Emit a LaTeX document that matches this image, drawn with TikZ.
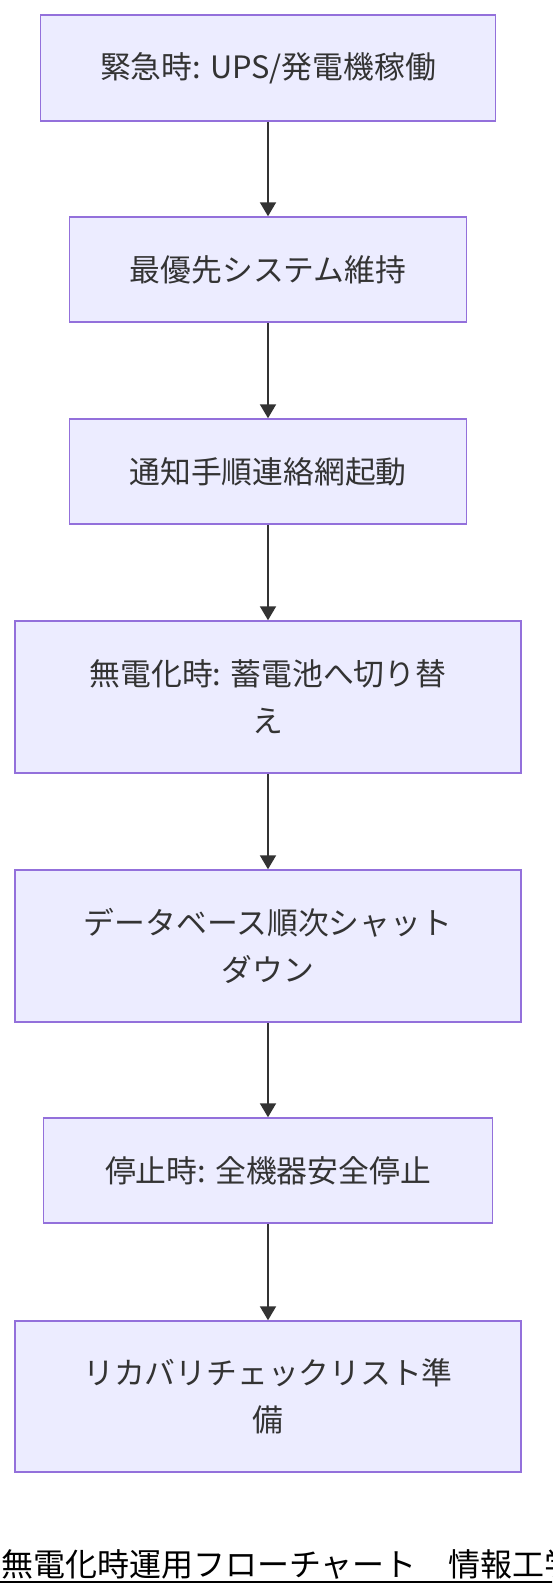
\documentclass[tikz,border=0pt]{standalone}
\usepackage{fontspec}
\usetikzlibrary{arrows.meta}
\newfontfamily\jp{Noto Sans CJK JP}
\definecolor{boxfill}{HTML}{ECECFF}
\definecolor{boxline}{HTML}{9370DB}
\definecolor{ink}{HTML}{333333}
\begin{document}
\begin{tikzpicture}[x=1pt,y=-1pt,
  stepbox/.style={draw=boxline, fill=boxfill, line width=1.5pt, inner sep=0pt,
    align=center, text=ink, font=\jp\fontsize{30.8pt}{47pt}\selectfont},
  arr/.style={draw=ink, line width=2pt, -{Triangle[length=14pt,width=16pt]}},
  titlefont/.style={font=\jp\fontsize{32pt}{32pt}\selectfont, text=black}]
\useasboundingbox (0,0) rectangle (552,1596);
\clip (0,0) rectangle (552,1596);
\fill[white] (0,0) rectangle (552,1596);

\node[stepbox, minimum width=455pt, minimum height=106pt] (b1) at (268,68) {緊急時: UPS/発電機稼働};
\node[stepbox, minimum width=397pt, minimum height=105pt] (b2) at (268,269.5) {最優先システム維持};
\node[stepbox, minimum width=397pt, minimum height=105pt] (b3) at (268,471.5) {通知手順連絡網起動};
\node[stepbox, minimum width=506pt, minimum height=152pt] (b4) at (268,697) {無電化時: 蓄電池へ切り替\\え};
\node[stepbox, minimum width=506pt, minimum height=152pt] (b5) at (268,946) {データベース順次シャット\\ダウン};
\node[stepbox, minimum width=449pt, minimum height=105pt] (b6) at (268,1170.5) {停止時: 全機器安全停止};
\node[stepbox, minimum width=506pt, minimum height=151pt] (b7) at (268,1396.5) {リカバリチェックリスト準\\備};

\draw[arr] (b1.south) -- (b2.north);
\draw[arr] (b2.south) -- (b3.north);
\draw[arr] (b3.south) -- (b4.north);
\draw[arr] (b4.south) -- (b5.north);
\draw[arr] (b5.south) -- (b6.north);
\draw[arr] (b6.south) -- (b7.north);

\node[titlefont, anchor=base west, inner sep=0pt] (title) at (1,1576) {無電化時運用フローチャート　情報工学};
\coordinate (ulA) at (0,1582);
\coordinate (ulB) at (560,1582);
\draw[line width=2pt, black] (ulA) -- (ulB);
\end{tikzpicture}
\end{document}
